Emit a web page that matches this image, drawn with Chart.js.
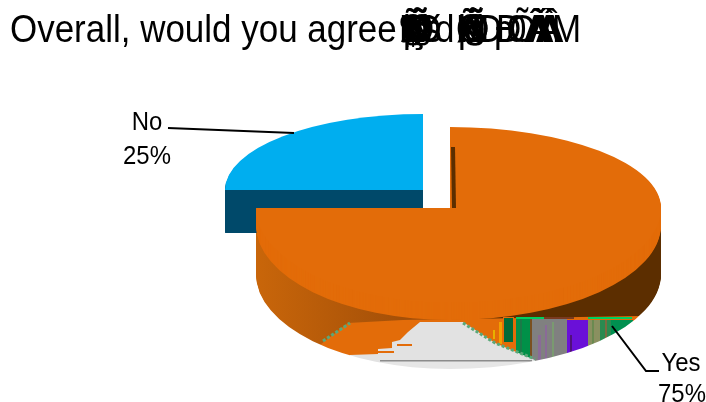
<!DOCTYPE html>
<html>
<head>
<meta charset="utf-8">
<title>Overall</title>
<script src="https://cdn.jsdelivr.net/npm/chart.js@4"></script>
<style>
html,body{margin:0;padding:0;background:#fff;overflow:hidden;}
#wrap{position:relative;width:706px;height:402px;}
</style>
</head>
<body>
<div id="wrap"><canvas id="myChart" width="706" height="402"></canvas></div>
<script>
const categories = ["Yes", "No"];
const seriesValues = [75, 25];
const titleText = "Overall, would you agree";
// broken glyph runs printed on top of each other after the readable part of the title
const titleRuns = [
    ["ÑÃ§ÐÕ¶ØþÇ", 399],
    ["ÕÑç§Ø", 406],
    ["s", 424],
    ["d", 435],
    ["ÑÃßÕ§Øþ", 456],
    ["ÕÑ§", 462],
    ["D", 477],
    ["pÐ", 494],
    ["0Õ", 507],
    ["ÂÃÀÁ", 524],
    ["ÁÀÂ", 536],
    ["M", 552],
];

const TOP_COLORS = ["#e36c09", "#00aeef"];
const WALL_COLORS = ["#c0600a", "#00496a"];

// where each slice sits on the page: apex, half widths and half heights of the tilted face,
// stretch is the straight run of the rim before the near edge starts curving
const poses = [
    {x: 450, y: 208, left: 194, right: 211, up: 81, down: 95, stretch: 17, depth: 49},
    {x: 423, y: 190, left: 198, right: 198, up: 76, down: 76, stretch: 0, depth: 43},
];

function drawSlice(ctx, el, color, pose, dy) {
    const shim = Object.create(el);
    shim.options = {
        backgroundColor: color, borderColor: color, borderWidth: 0, borderAlign: "center",
        borderJoinStyle: "round", borderDash: [], borderDashOffset: 0, offset: 0, spacing: 0,
        circular: true, borderRadius: 0,
    };
    const R = el.outerRadius;
    [[1, -1], [1, 1], [-1, 1], [-1, -1]].forEach(([qx, qy]) => {
        const rx = qx > 0 ? pose.right : pose.left;
        const ry = qy > 0 ? pose.down : pose.up;
        ctx.save();
        ctx.beginPath();
        ctx.rect(qx > 0 ? pose.x : 0, qy > 0 ? pose.y + dy : 0, qx > 0 ? 706 - pose.x : pose.x, qy > 0 ? 402 : pose.y + dy);
        ctx.clip();
        ctx.translate(pose.x, pose.y + dy);
        ctx.scale(rx / R, ry / R);
        ctx.translate(-el.x, -el.y);
        el.draw.call(shim, ctx);
        ctx.restore();
    });
}

function drawFace(ctx, el, color, pose) {
    for (let d = pose.stretch; d >= 0; d--) drawSlice(ctx, el, color, pose, d);
}

function drawWall(ctx, el, color, pose) {
    for (let d = pose.stretch + pose.depth; d > pose.stretch; d--) drawSlice(ctx, el, color, pose, d);
}

function poly(ctx, pts, color) {
    ctx.fillStyle = color;
    ctx.beginPath();
    pts.forEach((p, i) => i ? ctx.lineTo(p[0], p[1]) : ctx.moveTo(p[0], p[1]));
    ctx.closePath();
    ctx.fill();
}

function box(ctx, x, y, w, h, color) {
    ctx.fillStyle = color;
    ctx.fillRect(x, y, w, h);
}

function label(ctx, text, x, y, size, align) {
    ctx.save();
    ctx.translate(x, y);
    ctx.scale(0.92, 1);
    ctx.font = size + "px 'Liberation Sans'";
    ctx.textAlign = align;
    ctx.fillText(text, 0, 0);
    ctx.restore();
}

// paints the shading and the damaged front of the big slice's wall, only over what is already drawn
function paintWall(ctx) {
    ctx.save();
    ctx.globalCompositeOperation = "source-atop";
    const shade = ctx.createLinearGradient(255, 0, 405, 0);
    shade.addColorStop(0, "#c9660a");
    shade.addColorStop(1, "#a34f08");
    box(ctx, 250, 200, 210, 190, shade);
    box(ctx, 450, 200, 230, 120, "#5c2e00");

    poly(ctx, [[320, 345], [348, 323], [403, 320], [640, 316], [640, 385], [320, 385]], "#e36c09");

    box(ctx, 493, 330, 2, 9, "#e8b000");
    box(ctx, 499, 322, 3, 22, "#f0a000");
    box(ctx, 503, 317, 11, 26, "#e36c09");
    box(ctx, 504, 318, 9, 24, "#006a38");
    box(ctx, 516, 318, 14, 60, "#009048");
    box(ctx, 520, 318, 2, 60, "#1a7a48");
    box(ctx, 530, 318, 2, 60, "#7a5020");
    box(ctx, 532, 318, 35, 60, "#808080");
    box(ctx, 538, 335, 3, 40, "#8a6a98");
    box(ctx, 545, 325, 2, 50, "#8a6a98");
    box(ctx, 552, 322, 2, 50, "#7a9a70");
    box(ctx, 567, 320, 21, 60, "#6a10d8");
    box(ctx, 570, 335, 2, 40, "#50107a");
    box(ctx, 588, 320, 12, 60, "#8a9060");
    box(ctx, 592, 320, 2, 60, "#6a8a50");
    box(ctx, 600, 320, 11, 60, "#2a8a50");
    box(ctx, 605, 320, 2, 60, "#7a6a40");
    box(ctx, 611, 320, 22, 60, "#009050");
    box(ctx, 516, 317, 28, 2, "#00d060");
    box(ctx, 544, 317, 30, 2, "#7a3a20");
    box(ctx, 588, 317, 44, 2, "#00d060");

    poly(ctx, [[420, 322], [463, 322], [495, 343], [535, 360], [535, 385], [350, 385], [350, 355],
        [378, 354], [378, 349], [392, 348], [392, 342], [400, 340], [408, 332]], "#e2e2e2");
    box(ctx, 397, 344, 15, 2, "#e36c09");
    box(ctx, 350, 351, 44, 2, "#e36c09");
    box(ctx, 380, 361, 160, 20, "#e6e6e6");
    box(ctx, 380, 360, 152, 1.5, "#8c8c8c");

    ctx.setLineDash([3, 2]);
    ctx.lineWidth = 3;
    ctx.strokeStyle = "#5aa878";
    ctx.beginPath();
    ctx.moveTo(463, 323);
    ctx.lineTo(495, 343);
    ctx.lineTo(535, 359);
    ctx.moveTo(323, 341);
    ctx.lineTo(350, 323);
    ctx.stroke();
    ctx.restore();
}

const tiltedPie = {
    id: "tiltedPie",
    beforeDatasetsDraw(chart) {
        const ctx = chart.ctx;
        const arcs = chart.getDatasetMeta(0).data;
        drawWall(ctx, arcs[0], WALL_COLORS[0], poses[0]);
        paintWall(ctx);
        drawWall(ctx, arcs[1], WALL_COLORS[1], poses[1]);
        drawFace(ctx, arcs[1], TOP_COLORS[1], poses[1]);
        drawFace(ctx, arcs[0], TOP_COLORS[0], poses[0]);
        // cut edge of the big slice next to the gap
        poly(ctx, [[451, 147], [455, 147], [456, 208], [452, 208]], "#5c2e00");
        return false;
    },
    afterDraw(chart) {
        const ctx = chart.ctx;
        ctx.save();
        ctx.fillStyle = "#000";
        ctx.textBaseline = "alphabetic";
        label(ctx, titleText, 10, 42, 38, "left");
        titleRuns.forEach(([run, x]) => {
            [...run].forEach((ch, i) => label(ctx, ch, x + (i % 5) * 2, 42, 38, "left"));
        });

        label(ctx, categories[1], 147, 130, 26, "center");
        label(ctx, seriesValues[1] + "%", 147, 164, 26, "center");
        label(ctx, categories[0], 681, 371, 26, "center");
        label(ctx, seriesValues[0] + "%", 682, 402, 26, "center");

        ctx.strokeStyle = "#000";
        ctx.lineWidth = 2;
        ctx.beginPath();
        ctx.moveTo(168, 128);
        ctx.lineTo(294, 133);
        ctx.moveTo(612, 326);
        ctx.lineTo(646, 371);
        ctx.lineTo(659, 371);
        ctx.stroke();
        ctx.restore();
    },
};

const ctx = document.getElementById("myChart").getContext("2d");
const myChart = new Chart(ctx, {
    type: "pie",
    data: {
        labels: categories,
        datasets: [{data: seriesValues, backgroundColor: TOP_COLORS, borderWidth: 0}],
    },
    options: {
        responsive: false,
        animation: false,
        plugins: {
            legend: {display: false},
            tooltip: {enabled: false},
            title: {display: false},
        },
    },
    plugins: [tiltedPie],
});
</script>
</body>
</html>
